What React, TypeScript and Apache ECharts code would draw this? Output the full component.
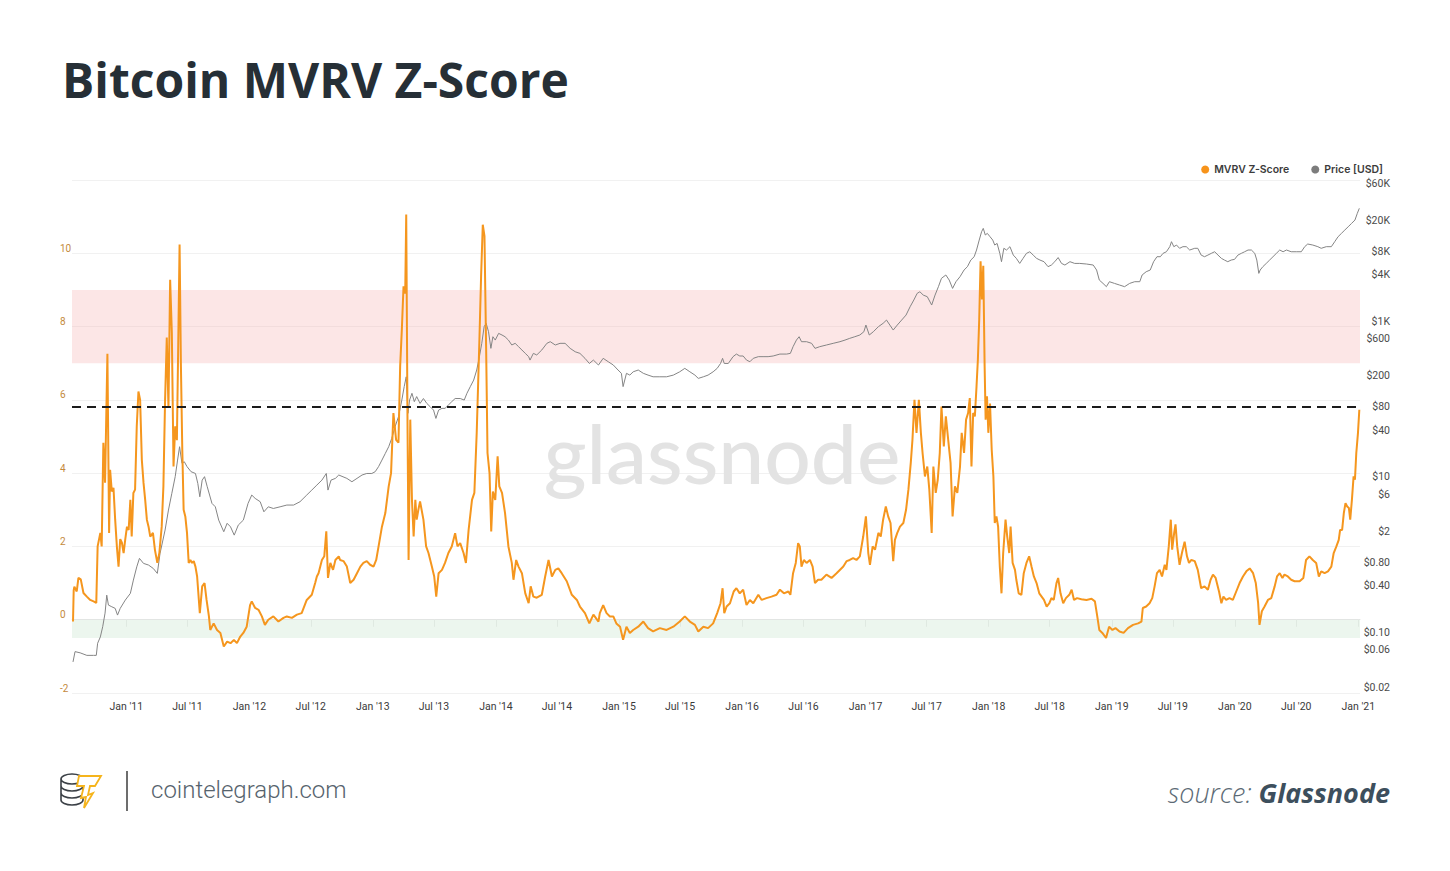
import React, { useEffect, useRef } from 'react';
import * as echarts from 'echarts';

const TITLE = 'Bitcoin MVRV Z-Score';
const SERIES_NAMES = ['MVRV Z-Score', 'Price [USD]'];
const SITE = 'cointelegraph.com';
const SOURCE_PREFIX = 'source: ';
const SOURCE_NAME = 'Glassnode';
const WATERMARK = 'glassnode';

const X_START = '2010-07-24';
const X_END = '2021-01-06';
const X_TICKS = [
  '2011-01-01', '2011-07-01', '2012-01-01', '2012-07-01', '2013-01-01', '2013-07-01',
  '2014-01-01', '2014-07-01', '2015-01-01', '2015-07-01', '2016-01-01', '2016-07-01',
  '2017-01-01', '2017-07-01', '2018-01-01', '2018-07-01', '2019-01-01', '2019-07-01',
  '2020-01-01', '2020-07-01', '2021-01-01',
];
const X_TICK_LABELS = [
  "Jan '11", "Jul '11", "Jan '12", "Jul '12", "Jan '13", "Jul '13", "Jan '14", "Jul '14",
  "Jan '15", "Jul '15", "Jan '16", "Jul '16", "Jan '17", "Jul '17", "Jan '18", "Jul '18",
  "Jan '19", "Jul '19", "Jan '20", "Jul '20", "Jan '21",
];

const Z_MIN = -2;
const Z_MAX = 12;
const Z_STEP = 2;
const RED_ZONE = [7, 9];
const GREEN_ZONE = [-0.5, 0];
const THRESHOLD = 5.8;

const PRICE_MIN = 0.01675;
const PRICE_MAX = 65600;
const PRICE_TICKS = [60000, 20000, 8000, 4000, 1000, 600, 200, 80, 40, 10, 6, 2, 0.8, 0.4, 0.1, 0.06, 0.02];
const PRICE_TICK_LABELS = ['$60K', '$20K', '$8K', '$4K', '$1K', '$600', '$200', '$80', '$40', '$10', '$6', '$2', '$0.80', '$0.40', '$0.10', '$0.06', '$0.02'];

type Pt = [string, number];

const mvrv2010: Pt[] = [
  ['2010-07-27', -0.05], ['2010-07-29', 0.8], ['2010-07-31', 0.9], ['2010-08-07', 0.77], ['2010-08-12', 1.14],
  ['2010-08-19', 1.1], ['2010-08-27', 0.73], ['2010-09-06', 0.63], ['2010-09-16', 0.54], ['2010-09-26', 0.5],
  ['2010-10-04', 0.46], ['2010-10-08', 2.0], ['2010-10-16', 2.37], ['2010-10-20', 2.0], ['2010-10-25', 4.83],
  ['2010-10-30', 3.74], ['2010-11-06', 7.26], ['2010-11-11', 2.37], ['2010-11-14', 4.09], ['2010-11-19', 3.5],
  ['2010-11-24', 3.6], ['2010-11-29', 2.73], ['2010-12-04', 2.0], ['2010-12-09', 1.45], ['2010-12-14', 2.2],
  ['2010-12-19', 2.1], ['2010-12-24', 1.82], ['2010-12-29', 2.2], ['2011-01-03', 2.54], ['2011-01-08', 2.45],
  ['2011-01-13', 3.27], ['2011-01-17', 2.27], ['2011-01-22', 3.46], ['2011-01-27', 3.55], ['2011-02-01', 5.28],
  ['2011-02-06', 6.23], ['2011-02-11', 6.0], ['2011-02-16', 4.37], ['2011-02-21', 3.74], ['2011-02-26', 3.27],
  ['2011-03-03', 2.73], ['2011-03-08', 2.54], ['2011-03-13', 2.27], ['2011-03-21', 2.37], ['2011-03-27', 1.9],
  ['2011-04-03', 1.55], ['2011-04-09', 1.82], ['2011-04-16', 2.54], ['2011-04-21', 3.64], ['2011-04-26', 6.0],
  ['2011-05-01', 7.7], ['2011-05-06', 5.8], ['2011-05-11', 9.28], ['2011-05-16', 7.83], ['2011-05-21', 4.18],
  ['2011-05-26', 5.28], ['2011-05-31', 4.9], ['2011-06-05', 8.2], ['2011-06-08', 10.24], ['2011-06-12', 6.9],
  ['2011-06-16', 4.64], ['2011-06-20', 3.0], ['2011-06-25', 2.82], ['2011-06-30', 2.37], ['2011-07-05', 1.55],
  ['2011-07-10', 1.63], ['2011-07-15', 1.55], ['2011-07-20', 1.6], ['2011-07-25', 1.45], ['2011-07-30', 1.18],
  ['2011-08-07', 0.18], ['2011-08-14', 0.91], ['2011-08-21', 1.0], ['2011-08-27', 0.54], ['2011-09-03', 0.09],
  ['2011-09-07', -0.28], ['2011-09-17', -0.1], ['2011-09-27', -0.28], ['2011-10-07', -0.36], ['2011-10-17', -0.73],
  ['2011-10-27', -0.6], ['2011-11-06', -0.64], ['2011-11-16', -0.55], ['2011-11-25', -0.64], ['2011-12-05', -0.46],
  ['2011-12-14', -0.36], ['2011-12-24', -0.19], ['2012-01-03', 0.4], ['2012-01-08', 0.5], ['2012-01-18', 0.32],
  ['2012-01-28', 0.27], ['2012-02-07', 0.09], ['2012-02-16', -0.14], ['2012-02-26', 0.0], ['2012-03-12', 0.09],
  ['2012-03-27', -0.05], ['2012-04-11', 0.05], ['2012-04-21', 0.09], ['2012-05-06', 0.05], ['2012-05-21', 0.14],
  ['2012-06-04', 0.18], ['2012-06-19', 0.54], ['2012-07-04', 0.68], ['2012-07-14', 1.0], ['2012-07-19', 1.18],
  ['2012-07-24', 1.27], ['2012-08-03', 1.63], ['2012-08-10', 1.73], ['2012-08-16', 2.41], ['2012-08-21', 1.14],
  ['2012-08-28', 1.55], ['2012-09-05', 1.36], ['2012-09-12', 1.63], ['2012-09-22', 1.73],
];

const mvrv2012: Pt[] = [
  ['2012-09-26', 1.63], ['2012-10-06', 1.6], ['2012-10-16', 1.45], ['2012-10-26', 1.0], ['2012-11-05', 1.09],
  ['2012-11-15', 1.27], ['2012-11-25', 1.45], ['2012-12-04', 1.55], ['2012-12-14', 1.6], ['2012-12-24', 1.5],
  ['2013-01-03', 1.45], ['2013-01-11', 1.63], ['2013-01-18', 2.0], ['2013-01-28', 2.54], ['2013-02-07', 2.91],
  ['2013-02-17', 3.64], ['2013-02-24', 4.0], ['2013-03-03', 5.64], ['2013-03-11', 4.91], ['2013-03-18', 4.83],
  ['2013-03-23', 6.92], ['2013-03-28', 7.92], ['2013-04-02', 9.1], ['2013-04-07', 8.9], ['2013-04-10', 11.06],
  ['2013-04-14', 5.1], ['2013-04-17', 1.63], ['2013-04-22', 5.46], ['2013-04-27', 3.27], ['2013-05-02', 2.27],
  ['2013-05-07', 3.27], ['2013-05-11', 2.73], ['2013-05-16', 3.0], ['2013-05-21', 3.23], ['2013-05-31', 2.73],
  ['2013-06-08', 2.0], ['2013-06-15', 1.82], ['2013-06-25', 1.45], ['2013-07-02', 1.18], ['2013-07-08', 0.63],
  ['2013-07-15', 1.27], ['2013-07-25', 1.36], ['2013-08-03', 1.55], ['2013-08-13', 1.82], ['2013-08-23', 2.0],
  ['2013-09-02', 2.36], ['2013-09-09', 2.0], ['2013-09-17', 2.09], ['2013-09-27', 1.82], ['2013-10-04', 1.55],
  ['2013-10-12', 2.45], ['2013-10-22', 3.27], ['2013-10-29', 3.46], ['2013-11-05', 5.1], ['2013-11-13', 7.64],
  ['2013-11-18', 9.38], ['2013-11-23', 10.78], ['2013-11-28', 10.47], ['2013-12-03', 7.37], ['2013-12-07', 4.55],
  ['2013-12-13', 4.0], ['2013-12-18', 2.41], ['2013-12-23', 3.5], ['2013-12-30', 3.27], ['2014-01-06', 4.46],
  ['2014-01-11', 3.64], ['2014-01-19', 3.46], ['2014-01-28', 2.91], ['2014-02-07', 2.0], ['2014-02-17', 1.55],
  ['2014-02-22', 1.09], ['2014-03-02', 1.63], ['2014-03-09', 1.45], ['2014-03-19', 1.27], ['2014-03-29', 0.72],
  ['2014-04-08', 0.45], ['2014-04-14', 0.91], ['2014-04-22', 0.63], ['2014-05-02', 0.6], ['2014-05-17', 0.68],
  ['2014-05-27', 1.18], ['2014-06-06', 1.63], ['2014-06-16', 1.18], ['2014-06-26', 1.36], ['2014-07-05', 1.4],
  ['2014-07-15', 1.27], ['2014-07-30', 1.05], ['2014-08-14', 0.68], ['2014-08-29', 0.54], ['2014-09-07', 0.36],
  ['2014-09-22', 0.18], ['2014-10-05', -0.1], ['2014-10-17', 0.14], ['2014-11-01', -0.05],
];

const mvrv2014: Pt[] = [
  ['2014-11-05', 0.18], ['2014-11-15', 0.4], ['2014-11-25', 0.18], ['2014-12-05', 0.09], ['2014-12-15', 0.09],
  ['2014-12-24', -0.1], ['2015-01-04', -0.19], ['2015-01-13', -0.55], ['2015-01-23', -0.19], ['2015-02-02', -0.36],
  ['2015-02-12', -0.28], ['2015-02-27', -0.19], ['2015-03-14', -0.05], ['2015-03-28', -0.23], ['2015-04-12', -0.32],
  ['2015-05-02', -0.23], ['2015-05-22', -0.28], ['2015-06-11', -0.19], ['2015-06-30', -0.05], ['2015-07-15', 0.09],
  ['2015-07-30', -0.05], ['2015-08-14', -0.14], ['2015-08-24', -0.32], ['2015-09-08', -0.19], ['2015-09-22', -0.23],
  ['2015-10-07', -0.1], ['2015-10-19', 0.18], ['2015-10-29', 0.45], ['2015-11-04', 0.86], ['2015-11-09', 0.18],
  ['2015-11-16', 0.36], ['2015-11-26', 0.45], ['2015-12-07', 0.77], ['2015-12-15', 0.86], ['2015-12-25', 0.72],
  ['2016-01-04', 0.82], ['2016-01-14', 0.4], ['2016-01-24', 0.54], ['2016-02-03', 0.45], ['2016-02-18', 0.68],
  ['2016-02-28', 0.54], ['2016-03-13', 0.59], ['2016-03-28', 0.63], ['2016-04-12', 0.68], ['2016-04-22', 0.82],
  ['2016-05-04', 0.72], ['2016-05-17', 0.77], ['2016-05-23', 0.68], ['2016-05-31', 1.27], ['2016-06-08', 1.55],
  ['2016-06-15', 2.09], ['2016-06-20', 2.0], ['2016-06-25', 1.45], ['2016-07-02', 1.63], ['2016-07-10', 1.55],
  ['2016-07-20', 1.63], ['2016-07-28', 1.45], ['2016-08-04', 1.0], ['2016-08-13', 1.09], ['2016-08-23', 1.09],
  ['2016-09-07', 1.23], ['2016-09-22', 1.14], ['2016-10-07', 1.27],
];

const mvrv2016: Pt[] = [
  ['2016-10-27', 1.45], ['2016-11-06', 1.6], ['2016-11-15', 1.63], ['2016-11-25', 1.68], ['2016-12-05', 1.63],
  ['2016-12-15', 1.73], ['2016-12-25', 2.27], ['2017-01-02', 2.82], ['2017-01-09', 1.82], ['2017-01-14', 1.5],
  ['2017-01-22', 2.0], ['2017-01-29', 1.91], ['2017-02-08', 2.37], ['2017-02-15', 2.27], ['2017-02-22', 2.73],
  ['2017-03-02', 3.09], ['2017-03-09', 2.82], ['2017-03-16', 2.64], ['2017-03-24', 1.6], ['2017-03-29', 2.18],
  ['2017-04-05', 2.37], ['2017-04-13', 2.54], ['2017-04-23', 2.64], ['2017-05-01', 3.0], ['2017-05-08', 3.55],
  ['2017-05-15', 4.28], ['2017-05-20', 4.91], ['2017-05-26', 6.0], ['2017-06-01', 5.1], ['2017-06-08', 6.0],
  ['2017-06-14', 5.1], ['2017-06-19', 4.55], ['2017-06-26', 3.91], ['2017-07-03', 4.18], ['2017-07-09', 3.55],
  ['2017-07-16', 2.37], ['2017-07-21', 4.18], ['2017-07-28', 3.46], ['2017-08-03', 3.82], ['2017-08-09', 4.55],
  ['2017-08-14', 5.82], ['2017-08-21', 4.73], ['2017-08-27', 5.55], ['2017-09-03', 4.91], ['2017-09-10', 4.28],
  ['2017-09-16', 2.82], ['2017-09-23', 3.64], ['2017-09-30', 3.46], ['2017-10-08', 4.18], ['2017-10-13', 5.1],
  ['2017-10-20', 4.55], ['2017-10-26', 5.46], ['2017-11-01', 5.64], ['2017-11-06', 6.05], ['2017-11-11', 4.18],
  ['2017-11-16', 5.64], ['2017-11-21', 5.55], ['2017-11-26', 6.37], ['2017-11-30', 7.1], ['2017-12-04', 8.2],
  ['2017-12-08', 9.78], ['2017-12-12', 8.74], ['2017-12-16', 9.66], ['2017-12-20', 6.92], ['2017-12-23', 5.46],
  ['2017-12-27', 6.1], ['2017-12-31', 5.1], ['2018-01-05', 5.9], ['2018-01-10', 4.64], ['2018-01-15', 3.91],
  ['2018-01-19', 2.64], ['2018-01-24', 2.82], ['2018-01-29', 2.54], ['2018-02-03', 1.45], ['2018-02-08', 0.72],
  ['2018-02-13', 1.82], ['2018-02-20', 2.73], ['2018-02-25', 2.27], ['2018-03-03', 1.82], ['2018-03-07', 2.54],
  ['2018-03-13', 1.55], ['2018-03-20', 1.36], ['2018-03-24', 1.09], ['2018-03-31', 0.72], ['2018-04-08', 0.68],
  ['2018-04-15', 1.27], ['2018-04-23', 1.55], ['2018-05-01', 1.73], ['2018-05-08', 1.45], ['2018-05-15', 1.18],
  ['2018-05-23', 1.0], ['2018-05-31', 0.72], ['2018-06-07', 0.63], ['2018-06-14', 0.54], ['2018-06-22', 0.36],
  ['2018-06-30', 0.45], ['2018-07-06', 0.59], ['2018-07-13', 0.54], ['2018-07-21', 1.0], ['2018-07-26', 1.14],
  ['2018-08-02', 0.72], ['2018-08-10', 0.45], ['2018-08-18', 0.59], ['2018-08-28', 0.68], ['2018-09-04', 0.82],
  ['2018-09-11', 0.54], ['2018-09-20', 0.59], ['2018-10-03', 0.56], ['2018-10-18', 0.54], ['2018-11-02', 0.57],
  ['2018-11-12', 0.5], ['2018-11-19', 0.09], ['2018-11-25', -0.28],
];

const mvrv2018: Pt[] = [
  ['2018-12-04', -0.36], ['2018-12-15', -0.5], ['2018-12-24', -0.19], ['2019-01-03', -0.28], ['2019-01-12', -0.23],
  ['2019-01-24', -0.32], ['2019-02-05', -0.36], ['2019-02-18', -0.23], ['2019-03-05', -0.14], ['2019-03-20', -0.1],
  ['2019-03-30', -0.05], ['2019-04-03', 0.32], ['2019-04-13', 0.36], ['2019-04-23', 0.45], ['2019-05-01', 0.59],
  ['2019-05-08', 0.91], ['2019-05-15', 1.27], ['2019-05-23', 1.36], ['2019-05-30', 1.18], ['2019-06-07', 1.5],
  ['2019-06-12', 1.36], ['2019-06-19', 2.0], ['2019-06-25', 2.73], ['2019-06-29', 1.91], ['2019-07-05', 2.37],
  ['2019-07-09', 2.6], ['2019-07-14', 2.0], ['2019-07-21', 1.5], ['2019-07-28', 1.82], ['2019-08-05', 2.13],
  ['2019-08-12', 1.73], ['2019-08-18', 1.55], ['2019-08-25', 1.63], ['2019-09-04', 1.6], ['2019-09-13', 1.36],
  ['2019-09-23', 0.86], ['2019-10-03', 0.91], ['2019-10-13', 0.82], ['2019-10-21', 1.09], ['2019-10-28', 1.23],
  ['2019-11-05', 1.14], ['2019-11-15', 0.77], ['2019-11-22', 0.45], ['2019-11-28', 0.63], ['2019-12-06', 0.54],
  ['2019-12-16', 0.59], ['2019-12-26', 0.54], ['2020-01-05', 0.77], ['2020-01-15', 1.0], ['2020-01-25', 1.18],
  ['2020-02-04', 1.32], ['2020-02-14', 1.4], ['2020-02-24', 1.27], ['2020-03-03', 1.0], ['2020-03-10', 0.45],
  ['2020-03-14', -0.14], ['2020-03-21', 0.23], ['2020-03-29', 0.36], ['2020-04-08', 0.54], ['2020-04-18', 0.59],
  ['2020-04-28', 0.91], ['2020-05-05', 1.18], ['2020-05-13', 1.27], ['2020-05-21', 1.14], ['2020-05-27', 1.23],
  ['2020-06-06', 1.18], ['2020-06-16', 1.09], ['2020-06-26', 1.05], ['2020-07-11', 1.05], ['2020-07-22', 1.14],
  ['2020-07-30', 1.63], ['2020-08-09', 1.73], ['2020-08-19', 1.63], ['2020-08-29', 1.55], ['2020-09-06', 1.18],
  ['2020-09-13', 1.32], ['2020-09-23', 1.27], ['2020-10-03', 1.32], ['2020-10-13', 1.45], ['2020-10-20', 1.82],
  ['2020-10-28', 2.0], ['2020-11-04', 2.18], ['2020-11-08', 2.45], ['2020-11-14', 2.45], ['2020-11-19', 2.91],
  ['2020-11-24', 3.18], ['2020-11-29', 3.09], ['2020-12-04', 3.05], ['2020-12-08', 2.73], ['2020-12-13', 3.27],
  ['2020-12-18', 3.91], ['2020-12-22', 3.82], ['2020-12-26', 4.55], ['2020-12-31', 5.1], ['2021-01-04', 5.73],
];

const price2010: Pt[] = [
  ['2010-07-27', 0.042], ['2010-08-02', 0.057], ['2010-08-17', 0.055], ['2010-09-06', 0.051], ['2010-09-26', 0.051],
  ['2010-10-04', 0.051], ['2010-10-08', 0.073], ['2010-10-16', 0.088], ['2010-10-23', 0.119], ['2010-10-30', 0.178],
  ['2010-11-04', 0.303], ['2010-11-09', 0.226], ['2010-11-19', 0.215], ['2010-11-29', 0.205], ['2010-12-06', 0.168],
  ['2010-12-14', 0.205], ['2010-12-29', 0.262], ['2011-01-13', 0.319], ['2011-01-22', 0.473], ['2011-02-01', 0.7],
  ['2011-02-09', 0.9], ['2011-02-21', 0.776], ['2011-03-08', 0.738], ['2011-03-22', 0.668], ['2011-04-03', 0.577],
  ['2011-04-11', 1.04], ['2011-04-26', 2.08], ['2011-05-06', 3.76], ['2011-05-16', 6.17], ['2011-05-26', 10.1],
  ['2011-06-02', 16.5], ['2011-06-08', 24.5], ['2011-06-15', 15.0], ['2011-06-22', 15.7], ['2011-06-30', 13.6],
  ['2011-07-12', 11.7], ['2011-07-25', 11.1], ['2011-08-01', 8.28], ['2011-08-07', 5.57], ['2011-08-14', 9.12],
  ['2011-08-21', 10.1], ['2011-08-29', 7.5], ['2011-09-12', 4.58], ['2011-09-22', 4.14], ['2011-10-02', 2.79],
  ['2011-10-17', 1.98], ['2011-10-27', 2.54], ['2011-11-06', 2.29], ['2011-11-17', 1.79], ['2011-11-29', 2.41],
  ['2011-12-14', 2.79], ['2011-12-28', 4.58], ['2012-01-08', 5.86], ['2012-01-18', 5.31], ['2012-02-02', 4.81],
  ['2012-02-13', 3.57], ['2012-02-26', 4.14], ['2012-03-12', 3.94], ['2012-04-01', 4.14], ['2012-04-21', 4.36],
  ['2012-05-11', 4.36], ['2012-05-30', 4.81], ['2012-06-19', 5.86], ['2012-07-04', 6.79], ['2012-07-19', 7.87],
  ['2012-08-03', 9.12], ['2012-08-16', 11.1], ['2012-08-21', 6.79], ['2012-08-30', 9.12], ['2012-09-12', 9.6],
  ['2012-09-22', 10.6],
];

const price2012: Pt[] = [
  ['2012-10-16', 9.6], ['2012-10-31', 8.69], ['2012-11-15', 9.6], ['2012-11-30', 10.6], ['2012-12-14', 11.1],
  ['2012-12-29', 11.1], ['2013-01-08', 11.7], ['2013-01-18', 13.6], ['2013-01-28', 16.5], ['2013-02-07', 20.1],
  ['2013-02-17', 24.5], ['2013-02-26', 31.3], ['2013-03-08', 44.3], ['2013-03-18', 59.4], ['2013-03-28', 97.5],
  ['2013-04-04', 145], ['2013-04-10', 194], ['2013-04-15', 65.8], ['2013-04-20', 97.5], ['2013-04-27', 119],
  ['2013-05-04', 92.9], ['2013-05-11', 108], ['2013-05-21', 88.3], ['2013-05-31', 102], ['2013-06-10', 88.3],
  ['2013-06-20', 80], ['2013-06-30', 72.4], ['2013-07-07', 56.6], ['2013-07-15', 72.4], ['2013-07-25', 76.2],
  ['2013-08-03', 76.2], ['2013-08-13', 84.1], ['2013-08-23', 92.9], ['2013-09-02', 102], ['2013-09-17', 102],
  ['2013-09-29', 97.5], ['2013-10-07', 119], ['2013-10-17', 145], ['2013-10-27', 176], ['2013-11-05', 237],
  ['2013-11-13', 352], ['2013-11-20', 522], ['2013-11-27', 855], ['2013-12-03', 944], ['2013-12-10', 736],
  ['2013-12-17', 450], ['2013-12-23', 635], ['2013-12-30', 575], ['2014-01-09', 701], ['2014-01-19', 668],
  ['2014-01-28', 635], ['2014-02-07', 575], ['2014-02-17', 497], ['2014-02-27', 522], ['2014-03-09', 473],
  ['2014-03-19', 429], ['2014-03-29', 388], ['2014-04-08', 352], ['2014-04-12', 318], ['2014-04-22', 388],
  ['2014-05-02', 370], ['2014-05-17', 429], ['2014-06-01', 522], ['2014-06-11', 548], ['2014-06-26', 497],
  ['2014-07-10', 522], ['2014-07-25', 522], ['2014-08-09', 450], ['2014-08-24', 407], ['2014-09-07', 388],
  ['2014-09-22', 335], ['2014-10-05', 288], ['2014-10-17', 318], ['2014-11-01', 275],
];

const price2014: Pt[] = [
  ['2014-11-15', 335], ['2014-11-30', 303], ['2014-12-15', 275], ['2014-12-29', 237], ['2015-01-08', 215],
  ['2015-01-13', 145], ['2015-01-23', 215], ['2015-02-02', 204], ['2015-02-12', 225], ['2015-02-27', 237],
  ['2015-03-14', 215], ['2015-03-28', 204], ['2015-04-12', 194], ['2015-05-02', 194], ['2015-05-22', 194],
  ['2015-06-11', 204], ['2015-06-30', 225], ['2015-07-15', 249], ['2015-07-30', 225], ['2015-08-14', 204],
  ['2015-08-24', 185], ['2015-09-08', 194], ['2015-09-22', 204], ['2015-10-07', 225], ['2015-10-19', 249],
  ['2015-10-29', 288], ['2015-11-04', 335], ['2015-11-09', 288], ['2015-11-21', 288], ['2015-12-05', 352],
  ['2015-12-15', 380], ['2015-12-25', 359], ['2016-01-04', 359], ['2016-01-14', 318], ['2016-01-24', 303],
  ['2016-02-03', 335], ['2016-02-18', 352], ['2016-03-03', 352], ['2016-03-18', 352], ['2016-04-02', 359],
  ['2016-04-22', 380], ['2016-05-12', 380], ['2016-05-23', 388], ['2016-05-31', 473], ['2016-06-10', 575],
  ['2016-06-18', 635], ['2016-06-25', 548], ['2016-07-10', 548], ['2016-07-25', 522], ['2016-08-04', 450],
  ['2016-08-18', 473], ['2016-09-07', 497], ['2016-09-27', 522], ['2016-10-17', 548],
];

const price2016: Pt[] = [
  ['2016-11-01', 575], ['2016-11-15', 605], ['2016-11-30', 635], ['2016-12-15', 668], ['2016-12-27', 736],
  ['2017-01-02', 897], ['2017-01-12', 668], ['2017-01-24', 736], ['2017-02-08', 855], ['2017-02-22', 944],
  ['2017-03-04', 1040], ['2017-03-14', 897], ['2017-03-24', 774], ['2017-04-05', 897], ['2017-04-18', 1040],
  ['2017-05-01', 1205], ['2017-05-13', 1542], ['2017-05-24', 1879], ['2017-06-03', 2291], ['2017-06-11', 2404],
  ['2017-06-21', 2178], ['2017-07-03', 2075], ['2017-07-16', 1622], ['2017-07-26', 2178], ['2017-08-05', 2793],
  ['2017-08-14', 3573], ['2017-08-27', 3945], ['2017-09-06', 3396], ['2017-09-16', 2655], ['2017-09-26', 3236],
  ['2017-10-08', 3750], ['2017-10-20', 4571], ['2017-10-30', 5047], ['2017-11-09', 6138], ['2017-11-19', 6776],
  ['2017-11-26', 8260], ['2017-12-04', 11100], ['2017-12-11', 14190], ['2017-12-16', 15670], ['2017-12-22', 12880],
  ['2017-12-28', 13520], ['2018-01-05', 12250], ['2018-01-13', 11100], ['2018-01-19', 9572], ['2018-01-26', 10050],
  ['2018-02-03', 7482], ['2018-02-08', 5848], ['2018-02-15', 8690], ['2018-02-23', 8260], ['2018-03-05', 9120],
  ['2018-03-15', 7112], ['2018-03-24', 6457], ['2018-04-03', 5559], ['2018-04-13', 6457], ['2018-04-23', 7482],
  ['2018-05-03', 7852], ['2018-05-13', 7112], ['2018-05-23', 6457], ['2018-06-02', 6138], ['2018-06-14', 5848],
  ['2018-06-26', 5047], ['2018-07-06', 5297], ['2018-07-16', 5848], ['2018-07-26', 6607], ['2018-08-05', 5559],
  ['2018-08-15', 5297], ['2018-08-30', 5848], ['2018-09-13', 5559], ['2018-09-28', 5559], ['2018-10-18', 5458],
  ['2018-11-07', 5297], ['2018-11-17', 4571], ['2018-11-25', 3396],
];

const price2018: Pt[] = [
  ['2018-12-06', 3076], ['2018-12-16', 2793], ['2018-12-25', 3236], ['2019-01-09', 3076], ['2019-01-24', 2931],
  ['2019-02-08', 2793], ['2019-02-23', 3076], ['2019-03-10', 3236], ['2019-03-25', 3236], ['2019-04-01', 3945],
  ['2019-04-13', 4345], ['2019-04-25', 4571], ['2019-05-05', 5848], ['2019-05-15', 6776], ['2019-05-25', 6776],
  ['2019-06-02', 7482], ['2019-06-12', 7852], ['2019-06-22', 9120], ['2019-06-27', 10570], ['2019-07-04', 9120],
  ['2019-07-12', 9572], ['2019-07-21', 8690], ['2019-07-31', 9120], ['2019-08-10', 9120], ['2019-08-20', 8260],
  ['2019-09-04', 8690], ['2019-09-13', 8690], ['2019-09-23', 7112], ['2019-10-03', 6776], ['2019-10-13', 7112],
  ['2019-10-23', 7482], ['2019-11-02', 7852], ['2019-11-12', 7112], ['2019-11-22', 6457], ['2019-12-01', 6138],
  ['2019-12-11', 5848], ['2019-12-21', 6138], ['2019-12-31', 6266], ['2020-01-10', 7112], ['2020-01-20', 7482],
  ['2020-01-30', 7852], ['2020-02-09', 8260], ['2020-02-19', 8260], ['2020-02-29', 7482], ['2020-03-06', 6138],
  ['2020-03-12', 4140], ['2020-03-16', 4571], ['2020-03-24', 5047], ['2020-04-03', 5559], ['2020-04-13', 6138],
  ['2020-04-23', 6776], ['2020-05-03', 7482], ['2020-05-13', 8260], ['2020-05-23', 7852], ['2020-06-02', 8260],
  ['2020-06-16', 7852], ['2020-07-01', 7852], ['2020-07-16', 7852], ['2020-07-26', 9120], ['2020-08-04', 9863],
  ['2020-08-19', 9572], ['2020-09-03', 9120], ['2020-09-13', 8690], ['2020-09-28', 9120], ['2020-10-13', 9120],
  ['2020-10-23', 10570], ['2020-11-02', 12250], ['2020-11-12', 13520], ['2020-11-22', 14930], ['2020-12-02', 16440],
  ['2020-12-12', 18160], ['2020-12-22', 20040], ['2020-12-29', 24430], ['2021-01-04', 28380],
];

const COINS_PATH =
  'M1 7 A11 5 0 1 0 23 7 A11 5 0 1 0 1 7 Z M1 7 L1 28 M23 7 L23 28 M1 14 A11 5 0 0 0 23 14 M1 21 A11 5 0 0 0 23 21 M1 28 A11 5 0 0 0 23 28';

let shapeRegistered = false;
function registerShapes() {
  if (shapeRegistered) return;
  try {
    echarts.graphic.registerShape('coins', echarts.graphic.extendPath(COINS_PATH, {}) as any);
  } catch (e) {
    /* ignore */
  }
  shapeRegistered = true;
}

function toTime(s: string): number {
  const [y, m, d] = s.split('-').map(Number);
  return Date.UTC(y, m - 1, d);
}

function nearestLabel(values: number[], labels: string[], v: number): string {
  let best = 0;
  let bestD = Infinity;
  values.forEach((x, i) => {
    const d = Math.abs(x - v);
    if (d < bestD) {
      bestD = d;
      best = i;
    }
  });
  return labels[best];
}

export default function App() {
  const ref = useRef<HTMLDivElement>(null);

  useEffect(() => {
    document.body.style.margin = '0';
    registerShapes();
    const chart = echarts.init(ref.current!, undefined, { renderer: 'svg' });

    const mvrvData = [...mvrv2010, ...mvrv2012, ...mvrv2014, ...mvrv2016, ...mvrv2018].map(
      ([d, v]) => [toTime(d), v]
    );
    const priceData = [...price2010, ...price2012, ...price2014, ...price2016, ...price2018].map(
      ([d, p]) => [toTime(d), Math.log10(p)]
    );
    const xTickTimes = X_TICKS.map(toTime);
    const priceTickLogs = PRICE_TICKS.map((p) => Math.log10(p));

    const option: any = {
      animation: false,
      backgroundColor: '#ffffff',
      textStyle: { fontFamily: 'Roboto, sans-serif' },
      grid: {
        left: 72,
        right: 90,
        top: 180,
        bottom: 178,
        containLabel: false,
      },
      legend: {
        top: 159,
        right: 62,
        icon: 'circle',
        itemWidth: 8,
        itemHeight: 8,
        itemGap: 22,
        textStyle: { fontSize: 10.5, fontWeight: 600, color: '#3c3c3c', fontFamily: 'Inter, Roboto, sans-serif' },
        data: [
          { name: SERIES_NAMES[0], itemStyle: { color: '#f7931a' } },
          { name: SERIES_NAMES[1], itemStyle: { color: '#7c7c7c' } },
        ],
      },
      xAxis: {
        type: 'value',
        min: toTime(X_START),
        max: toTime(X_END),
        axisLine: { show: true, lineStyle: { color: '#e6e6e6', width: 1 } },
        axisTick: {
          show: true,
          customValues: xTickTimes,
          length: 7,
          lineStyle: { color: '#ececec' },
        },
        axisLabel: {
          customValues: xTickTimes,
          formatter: (v: number) => nearestLabel(xTickTimes, X_TICK_LABELS, v),
          color: '#3a3a3a',
          fontSize: 10.5,
          margin: 8,
        },
        splitLine: { show: false },
      },
      yAxis: [
        {
          type: 'value',
          position: 'left',
          min: Z_MIN,
          max: Z_MAX,
          interval: Z_STEP,
          axisLine: { show: false },
          axisTick: { show: false },
          splitLine: { show: true, lineStyle: { color: '#f1f1f1', width: 1 } },
          axisLabel: {
            color: '#c48a3c',
            fontSize: 10,
            align: 'left',
            margin: 12,
            verticalAlign: 'bottom',
            showMaxLabel: false,
          },
        },
        {
          type: 'value',
          position: 'right',
          min: Math.log10(PRICE_MIN),
          max: Math.log10(PRICE_MAX),
          axisLine: { show: false },
          axisTick: { show: false },
          splitLine: { show: false },
          axisLabel: {
            customValues: priceTickLogs,
            formatter: (v: number) => nearestLabel(priceTickLogs, PRICE_TICK_LABELS, v),
            color: '#4a4a4a',
            fontSize: 10.5,
            align: 'right',
            margin: 30,
          },
        },
      ],
      series: [
        {
          name: SERIES_NAMES[1],
          type: 'line',
          yAxisIndex: 1,
          data: priceData,
          showSymbol: false,
          symbol: 'none',
          color: '#7c7c7c',
          lineStyle: { color: '#858585', width: 1 },
          z: 3,
        },
        {
          name: SERIES_NAMES[0],
          type: 'line',
          yAxisIndex: 0,
          data: mvrvData,
          showSymbol: false,
          symbol: 'none',
          color: '#f7931a',
          lineStyle: { color: '#f5961e', width: 2 },
          z: 4,
          markArea: {
            silent: true,
            data: [
              [{ yAxis: RED_ZONE[0], itemStyle: { color: 'rgba(245,172,172,0.3)' } }, { yAxis: RED_ZONE[1] }],
              [{ yAxis: GREEN_ZONE[0], itemStyle: { color: 'rgba(192,225,198,0.3)' } }, { yAxis: GREEN_ZONE[1] }],
            ],
          },
          markLine: {
            silent: true,
            symbol: ['none', 'none'],
            label: { show: false },
            lineStyle: { color: '#1c1c1c', type: [9, 6], width: 2 },
            data: [{ yAxis: THRESHOLD }],
          },
        },
      ],
      graphic: [
        {
          type: 'text',
          left: 62,
          top: 55,
          style: {
            text: TITLE,
            fill: '#262f36',
            font: 'bold 48px "Open Sans", sans-serif',
          },
        },
        {
          type: 'text',
          x: 722,
          y: 452,
          z: 1,
          silent: true,
          style: {
            text: WATERMARK,
            fill: '#e3e3e3',
            font: '500 82px Lato, sans-serif',
            align: 'center',
            verticalAlign: 'middle',
          },
        },
        {
          type: 'coins',
          x: 60,
          y: 772,
          style: { fill: 'none', stroke: '#3b4046', lineWidth: 1.6 },
        },
        {
          type: 'polygon',
          shape: {
            points: [
              [79, 776], [101, 776], [95, 786], [90, 786], [88, 795], [93, 793],
              [84, 808], [86, 797], [81, 798], [84, 786], [77, 786],
            ],
          },
          style: { fill: '#ffffff', stroke: '#f5b41c', lineWidth: 1.8 },
        },
        {
          type: 'line',
          shape: { x1: 127, y1: 771, x2: 127, y2: 811 },
          style: { stroke: '#6d6d6d', lineWidth: 2 },
        },
        {
          type: 'text',
          x: 151,
          y: 790,
          style: {
            text: SITE,
            fill: '#56636d',
            font: '300 24px Roboto, sans-serif',
            verticalAlign: 'middle',
          },
        },
        {
          type: 'text',
          x: 1390,
          y: 792,
          style: {
            text: `{a|${SOURCE_PREFIX}}{b|${SOURCE_NAME}}`,
            align: 'right',
            verticalAlign: 'middle',
            rich: {
              a: { fill: '#5c6a75', font: 'italic 300 27px "Open Sans", sans-serif' },
              b: { fill: '#3d4f5d', font: 'italic bold 27px "Open Sans", sans-serif' },
            },
          },
        },
      ],
    };

    chart.setOption(option);
    return () => chart.dispose();
  }, []);

  return <div ref={ref} style={{ width: 1450, height: 871 }} />;
}
